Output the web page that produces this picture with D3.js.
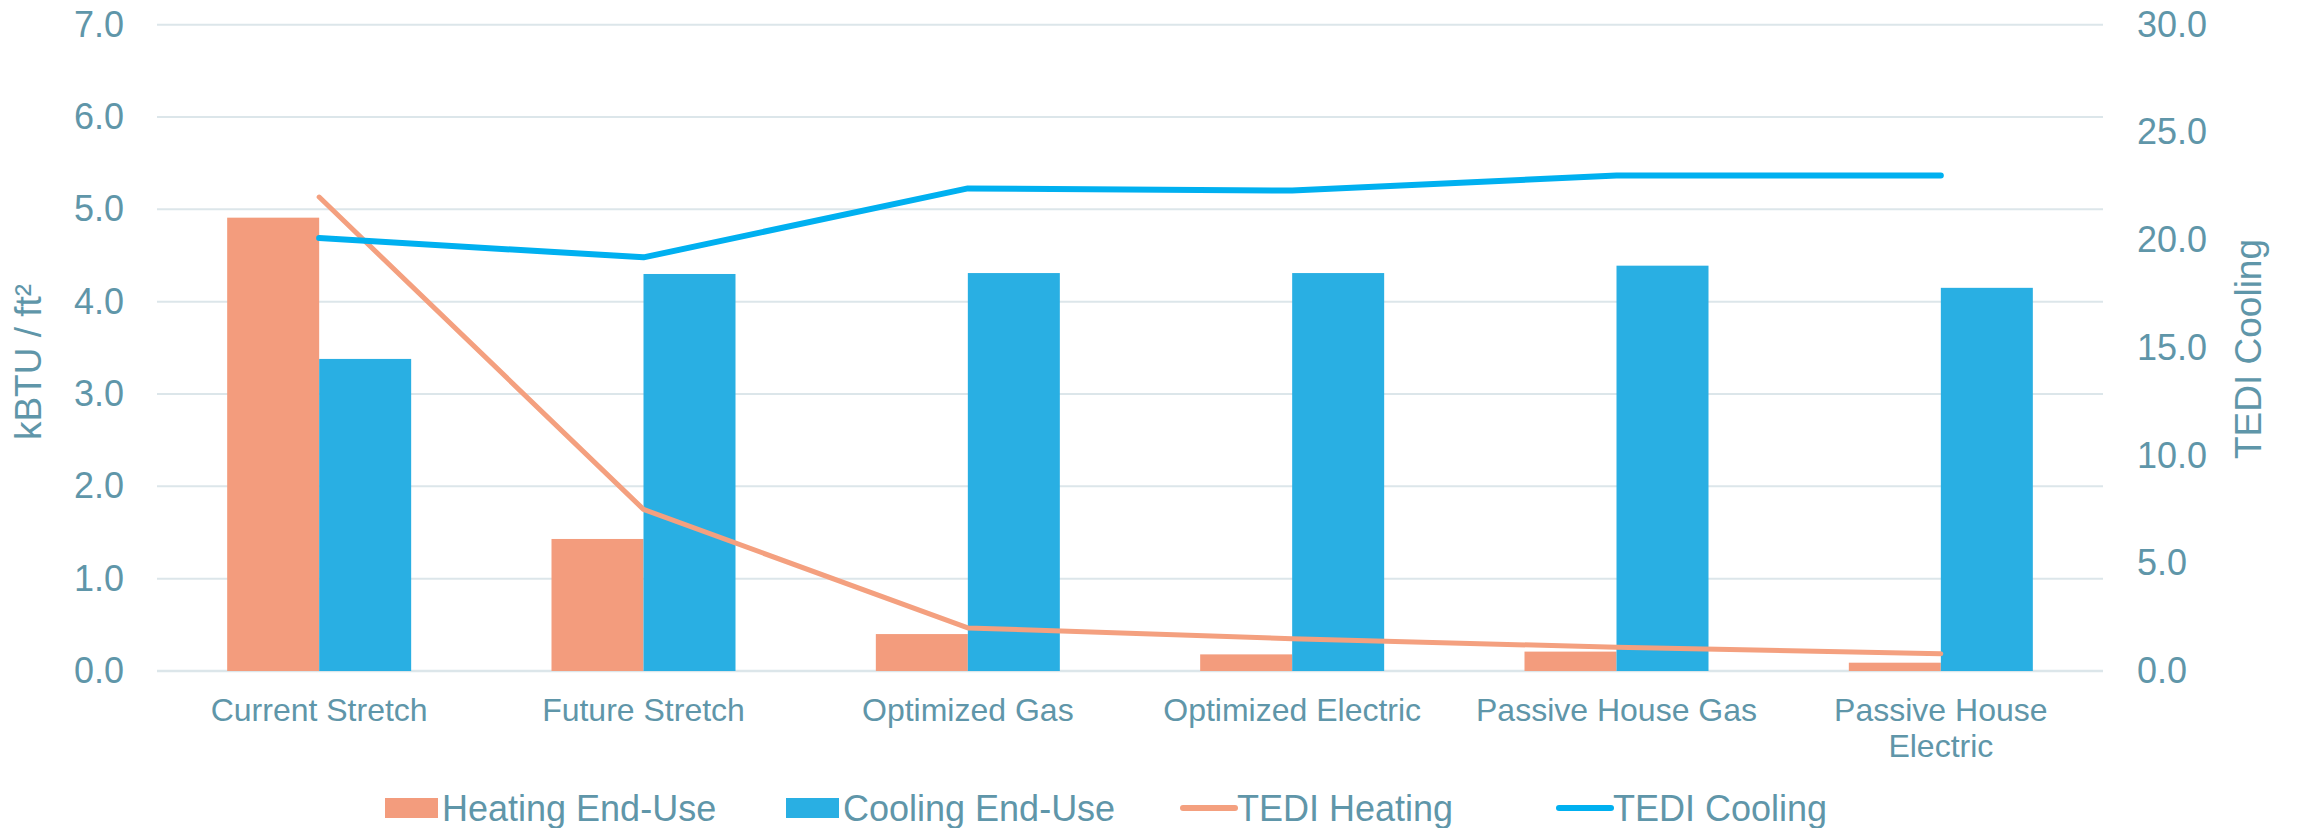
<!DOCTYPE html>
<html>
<head>
<meta charset="utf-8">
<script src="https://cdn.jsdelivr.net/npm/d3@7"></script>
<style>
  html, body { margin: 0; padding: 0; background: #ffffff; }
  svg { display: block; }
  text { font-family: "Liberation Sans", Arial, sans-serif; fill: #5f96a9; }
</style>
</head>
<body>
<svg id="chart" width="2297" height="828"></svg>
<script>
// Scenario categories
const categories = ["Current Stretch", "Future Stretch", "Optimized Gas", "Optimized Electric", "Passive House Gas", "Passive House Electric"];

// End-use intensity (kBTU / ft²), left axis
const heatingEndUse = [4.91, 1.43, 0.40, 0.18, 0.21, 0.09];
const coolingEndUse = [3.38, 4.30, 4.31, 4.31, 4.39, 4.15];

// Thermal energy demand intensity, right axis
const tediHeating = [22.0, 7.5, 2.0, 1.5, 1.1, 0.8];
const tediCooling = [20.1, 19.2, 22.4, 22.3, 23.0, 23.0];

// Axis ticks
const leftTicks = [0, 1, 2, 3, 4, 5, 6, 7];
const rightTicks = [0, 5, 10, 15, 20, 25, 30];

// Legend entries
const legendItems = [
  { label: "Heating End-Use", kind: "bar",  color: "#f39c7d", x: 385 },
  { label: "Cooling End-Use", kind: "bar",  color: "#29afe3", x: 786 },
  { label: "TEDI Heating",    kind: "line", color: "#f4a07f", x: 1180 },
  { label: "TEDI Cooling",    kind: "line", color: "#00b0f0", x: 1556 }
];

const colors = { heat: "#f39c7d", cool: "#29afe3", tediHeat: "#f4a07f", tediCool: "#00b0f0", grid: "#dce6ea" };

const plot = { left: 157, right: 2103, top: 24.7, bottom: 671 };

const svg = d3.select("#chart");

const x = d3.scaleBand().domain(categories).range([plot.left, plot.right]).padding(0);
const barW = 92;
const sub = d3.scaleBand().domain(["heat", "cool"])
  .range([x.bandwidth() / 2 - barW, x.bandwidth() / 2 + barW]).padding(0);

const yL = d3.scaleLinear().domain([0, 7]).range([plot.bottom, plot.top]);
const yR = d3.scaleLinear().domain([0, 30]).range([plot.bottom, plot.top]);

// Horizontal gridlines
svg.append("g")
  .selectAll("line")
  .data(leftTicks)
  .join("line")
  .attr("x1", plot.left).attr("x2", plot.right)
  .attr("y1", d => yL(d)).attr("y2", d => yL(d))
  .attr("stroke", colors.grid)
  .attr("stroke-width", d => d === 0 ? 2.6 : 2);

// Left axis
const leftAxis = svg.append("g")
  .attr("transform", `translate(${plot.left},0)`)
  .call(d3.axisLeft(yL).tickValues(leftTicks).tickFormat(d3.format(".1f")).tickSize(0).tickPadding(33));
leftAxis.select(".domain").remove();
leftAxis.selectAll("text").attr("font-size", 36).style("font-family", "'Liberation Sans', Arial, sans-serif").attr("fill", "#5f96a9");

// Right axis
const rightAxis = svg.append("g")
  .attr("transform", `translate(${plot.right},0)`)
  .call(d3.axisRight(yR).tickValues(rightTicks).tickFormat(d3.format(".1f")).tickSize(0).tickPadding(34));
rightAxis.select(".domain").remove();
rightAxis.selectAll("text").attr("font-size", 36).style("font-family", "'Liberation Sans', Arial, sans-serif").attr("fill", "#5f96a9");

// Bars
const groups = svg.append("g")
  .selectAll("g")
  .data(categories)
  .join("g")
  .attr("transform", d => `translate(${x(d)},0)`);

groups.append("rect")
  .attr("x", sub("heat")).attr("width", sub.bandwidth())
  .attr("y", (d, i) => yL(heatingEndUse[i]))
  .attr("height", (d, i) => yL(0) - yL(heatingEndUse[i]))
  .attr("fill", colors.heat);

groups.append("rect")
  .attr("x", sub("cool")).attr("width", sub.bandwidth())
  .attr("y", (d, i) => yL(coolingEndUse[i]))
  .attr("height", (d, i) => yL(0) - yL(coolingEndUse[i]))
  .attr("fill", colors.cool);

// Lines on the secondary axis
const cx = c => x(c) + x.bandwidth() / 2;
const line = d3.line().x(d => cx(d.c)).y(d => yR(d.v));

svg.append("path")
  .datum(categories.map((c, i) => ({ c, v: tediHeating[i] })))
  .attr("d", line)
  .attr("fill", "none")
  .attr("stroke", colors.tediHeat)
  .attr("stroke-width", 5)
  .attr("stroke-linecap", "round")
  .attr("stroke-linejoin", "round");

svg.append("path")
  .datum(categories.map((c, i) => ({ c, v: tediCooling[i] })))
  .attr("d", line)
  .attr("fill", "none")
  .attr("stroke", colors.tediCool)
  .attr("stroke-width", 6)
  .attr("stroke-linecap", "round")
  .attr("stroke-linejoin", "round");

// Category labels, wrapped to fit the band
const labelSize = 32;
const xLabels = svg.append("g")
  .selectAll("text")
  .data(categories)
  .join("text")
  .attr("x", d => cx(d))
  .attr("y", 721)
  .attr("text-anchor", "middle")
  .attr("font-size", labelSize);

xLabels.each(function (d) {
  const t = d3.select(this);
  const words = d.split(" ");
  const lines = [];
  let cur = [];
  const probe = t.append("tspan");
  words.forEach(w => {
    const trial = cur.concat(w).join(" ");
    probe.text(trial);
    if (probe.node().getComputedTextLength() > 300 && cur.length) {
      lines.push(cur.join(" "));
      cur = [w];
    } else {
      cur.push(w);
    }
  });
  lines.push(cur.join(" "));
  probe.remove();
  lines.forEach((ln, k) => {
    t.append("tspan").attr("x", cx(d)).attr("dy", k === 0 ? 0 : 36).text(ln);
  });
});

// Axis titles
svg.append("text")
  .attr("transform", `translate(41,362) rotate(-90)`)
  .attr("text-anchor", "middle")
  .attr("font-size", 37)
  .text("kBTU / ft²");

svg.append("text")
  .attr("transform", `translate(2261,349) rotate(-90)`)
  .attr("text-anchor", "middle")
  .attr("font-size", 37)
  .text("TEDI Cooling");

// Legend
const legend = svg.append("g");
const legendY = 808;
legendItems.forEach(item => {
  const g = legend.append("g");
  if (item.kind === "bar") {
    g.append("rect")
      .attr("x", item.x).attr("y", legendY - 10)
      .attr("width", 53).attr("height", 20)
      .attr("fill", item.color);
  } else {
    g.append("line")
      .attr("x1", item.x + 3).attr("x2", item.x + 55)
      .attr("y1", legendY).attr("y2", legendY)
      .attr("stroke", item.color)
      .attr("stroke-width", 6)
      .attr("stroke-linecap", "round");
  }
  g.append("text")
    .attr("x", item.x + 57)
    .attr("y", legendY + 13)
    .attr("font-size", 36)
    .text(item.label);
});
</script>
</body>
</html>
